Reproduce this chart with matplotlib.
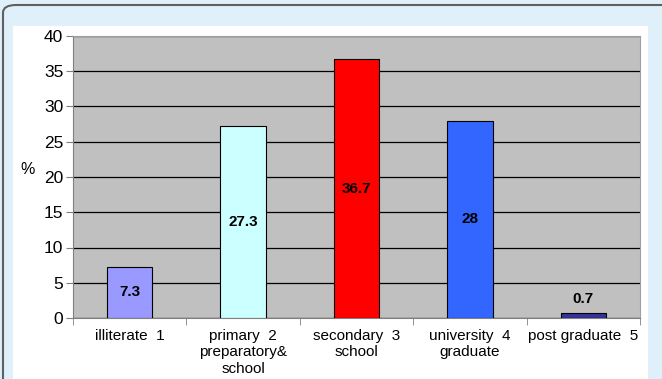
import matplotlib.pyplot as plt
from matplotlib.patches import Rectangle, FancyBboxPatch

plt.rcParams['font.family'] = ['Liberation Sans', 'DejaVu Sans']

# data
categories = ['illiterate  1', 'primary  2\npreparatory&\nschool', 'secondary  3\nschool',
              'university  4\ngraduate', 'post graduate  5']
values = [7.3, 27.3, 36.7, 28, 0.7]
value_labels = ['7.3', '27.3', '36.7', '28', '0.7']
colors = ['#9999FF', '#CCFFFF', '#FF0000', '#3366FF', '#333399']

fig = plt.figure(figsize=(6.62, 3.79), dpi=100)
fig.patch.set_facecolor('#DFF0FA')

# outer rounded frame and white panel (behind the axes)
W, H = 662, 379
frame = FancyBboxPatch((3 / W, -0.05), 700 / W, 1.05 - 5 / H,
                       boxstyle='round,pad=0,rounding_size=0.02',
                       transform=fig.transFigure, facecolor='none',
                       edgecolor='#606060', linewidth=1.5, zorder=-2)
fig.patches.append(frame)
panel = Rectangle((13 / W, 0), (648 - 13) / W, 1 - 26 / H, transform=fig.transFigure,
                  facecolor='white', edgecolor='none', zorder=-1)
fig.patches.append(panel)

ax = fig.add_axes([73 / W, 1 - 318 / H, (640 - 73) / W, (318 - 36) / H])
ax.set_facecolor('#C0C0C0')
ax.set_zorder(1)

x = list(range(len(categories)))
bars = ax.bar(x, values, width=0.4, color=colors, edgecolor='black', linewidth=0.8, zorder=3)

for xi, v, lab in zip(x, values, value_labels):
    if v > 3:
        ax.text(xi, v / 2, lab, ha='center', va='center', fontsize=11, fontweight='bold', zorder=4)
    else:
        ax.text(xi, v + 1.0, lab, ha='center', va='bottom', fontsize=11, fontweight='bold', zorder=4)

ax.set_xlim(-0.5, len(categories) - 0.5)
ax.set_ylim(0, 40)
ax.set_yticks(range(0, 41, 5))
ax.tick_params(axis='y', labelsize=12.5, length=5, color='#808080', pad=2)
ax.yaxis.grid(True, color='black', linewidth=0.9, zorder=0)
ax.set_axisbelow(True)

ax.set_xticks(x)
ax.set_xticklabels(categories, fontsize=11, linespacing=1.2)
ax.tick_params(axis='x', length=0, pad=8)
ax.set_xticks([i + 0.5 for i in range(-1, len(categories))], minor=True)
ax.tick_params(axis='x', which='minor', length=5, color='#808080')

for s in ['top', 'right']:
    ax.spines[s].set_color('#A0A0A0')
for s in ['left', 'bottom']:
    ax.spines[s].set_color('#808080')

ax.set_ylabel('%', rotation=0, fontsize=11.5)
ax.yaxis.set_label_coords(-0.08, 0.5)

fig.savefig('out.png', dpi=100, facecolor=fig.get_facecolor())
